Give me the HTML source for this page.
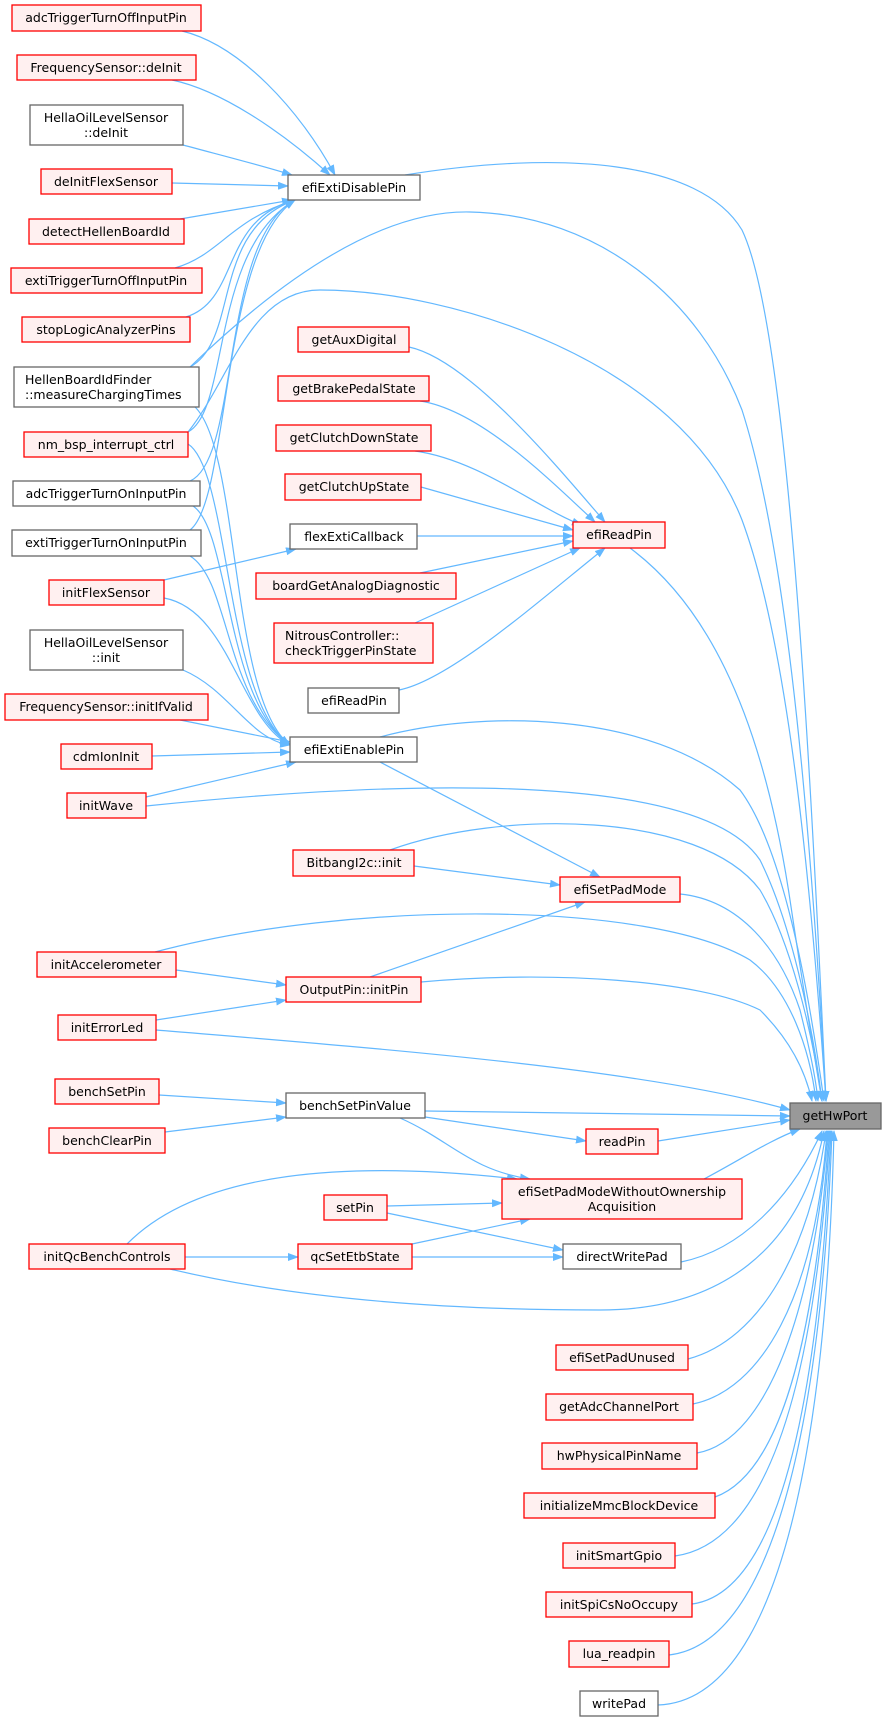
<!DOCTYPE html>
<html><head><meta charset="utf-8"><style>
html,body{margin:0;padding:0;background:#fff;}
svg{display:block;}
text{font-family:"DejaVu Sans","Liberation Sans",sans-serif;font-size:12.5px;fill:#000;}
.r{fill:#fff0f0;stroke:#ff0000;stroke-width:1.3;}
.g{fill:#fff;stroke:#666;stroke-width:1.3;}
.e{fill:none;stroke:#63b8ff;stroke-width:1.2;}
</style></head><body>
<svg width="883" height="1721" viewBox="0 0 883 1721" xmlns="http://www.w3.org/2000/svg">
<defs><marker id="a" markerWidth="11" markerHeight="8" refX="10" refY="4" orient="auto" markerUnits="userSpaceOnUse"><path d="M0,0 L11,4 L0,8 z" fill="#63b8ff"/></marker></defs>
<g class="e" marker-end="url(#a)">
<path d="M182,31 C240,45 300,110 335,175"/>
<path d="M172,80 C220,90 280,130 330,175"/>
<path d="M183,145 C220,155 260,165 292,175"/>
<path d="M172,183 L288,186"/>
<path d="M180,219 L292,200"/>
<path d="M175,268 C220,255 230,220 295,200"/>
<path d="M186,317 C240,300 220,220 295,200"/>
<path d="M190,367 C240,340 210,230 295,200"/>
<path d="M188,432 C230,410 210,250 295,200"/>
<path d="M190,481 C240,460 220,240 295,200"/>
<path d="M190,530 C230,500 220,250 295,200"/>
<path d="M195,407 C240,450 230,700 290,745"/>
<path d="M188,444 C230,470 225,700 290,745"/>
<path d="M193,506 C230,530 225,700 290,745"/>
<path d="M190,556 C230,580 225,700 290,745"/>
<path d="M164,598 C230,610 240,720 290,745"/>
<path d="M183,670 C230,690 250,740 290,745"/>
<path d="M180,720 L290,742"/>
<path d="M152,756 L290,752"/>
<path d="M146,797 L296,762"/>
<path d="M164,580 L296,549"/>
<path d="M409,347 C470,360 560,470 605,522"/>
<path d="M420,401 C480,410 550,480 595,522"/>
<path d="M415,451 C480,460 540,510 582,525"/>
<path d="M421,487 L573,530"/>
<path d="M417,536 L573,536"/>
<path d="M420,573 L573,541"/>
<path d="M415,623 L580,548"/>
<path d="M399,690 C450,680 540,600 605,548"/>
<path d="M405,175 C560,150 700,160 742,230 C790,330 812,800 826,1101"/>
<path d="M190,367 C280,280 380,210 470,212 C600,215 700,300 742,410 C790,560 812,850 826,1101"/>
<path d="M188,432 C230,380 250,290 320,290 C450,290 680,360 742,520 C790,650 812,900 826,1101"/>
<path d="M630,548 C700,600 760,700 790,900 C805,1000 815,1060 822,1101"/>
<path d="M380,737 C480,710 650,710 740,790 C785,850 810,1000 824,1101"/>
<path d="M146,806 C400,780 700,770 760,860 C790,920 812,1020 822,1101"/>
<path d="M390,850 C500,810 700,810 760,890 C790,940 812,1030 822,1101"/>
<path d="M680,894 C740,900 780,950 800,1010 C810,1050 816,1080 818,1101"/>
<path d="M155,952 C350,900 650,900 750,960 C790,990 810,1050 816,1101"/>
<path d="M421,982 C550,970 700,980 760,1010 C790,1040 805,1070 812,1101"/>
<path d="M156,1030 C400,1050 650,1070 790,1110"/>
<path d="M425,1111 L790,1116"/>
<path d="M658,1141 L790,1120"/>
<path d="M704,1179 C740,1160 770,1140 800,1129"/>
<path d="M681,1262 C740,1250 790,1200 822,1131"/>
<path d="M170,1269 C300,1300 450,1310 600,1310 C720,1310 800,1250 824,1131"/>
<path d="M688,1359 C760,1340 810,1250 826,1131"/>
<path d="M693,1404 C760,1390 815,1300 827,1131"/>
<path d="M697,1453 C770,1440 815,1300 828,1131"/>
<path d="M715,1497 C790,1470 818,1300 829,1131"/>
<path d="M675,1556 C790,1540 820,1300 830,1131"/>
<path d="M692,1604 C800,1590 823,1300 831,1131"/>
<path d="M669,1655 C800,1640 826,1300 832,1131"/>
<path d="M658,1705 C810,1700 830,1300 834,1131"/>
<path d="M380,762 L600,877"/>
<path d="M414,866 L560,885"/>
<path d="M370,977 L585,902"/>
<path d="M176,970 L286,985"/>
<path d="M156,1020 L286,1000"/>
<path d="M159,1095 L286,1103"/>
<path d="M165,1132 L286,1117"/>
<path d="M425,1117 L586,1141"/>
<path d="M400,1118 C450,1140 470,1170 530,1179"/>
<path d="M127,1244 C200,1170 350,1160 517,1179"/>
<path d="M387,1206 L502,1203"/>
<path d="M412,1244 L530,1219"/>
<path d="M387,1213 L563,1250"/>
<path d="M412,1257 L563,1257"/>
<path d="M185,1257 L298,1257"/>
</g>
<g text-anchor="middle">
<rect class="r" x="12" y="5" width="189" height="26"/><text x="106" y="22">adcTriggerTurnOffInputPin</text>
<rect class="r" x="17" y="55" width="179" height="25"/><text x="106" y="72">FrequencySensor::deInit</text>
<rect class="g" x="30" y="105" width="153" height="40"/><text x="106" y="122">HellaOilLevelSensor</text><text x="106" y="137">::deInit</text>
<rect class="r" x="41" y="169" width="131" height="25"/><text x="106" y="186">deInitFlexSensor</text>
<rect class="r" x="29" y="219" width="155" height="25"/><text x="106" y="236">detectHellenBoardId</text>
<rect class="r" x="11" y="268" width="191" height="25"/><text x="106" y="285">extiTriggerTurnOffInputPin</text>
<rect class="r" x="22" y="317" width="168" height="25"/><text x="106" y="334">stopLogicAnalyzerPins</text>
<rect class="g" x="14" y="367" width="185" height="40"/><text x="25" y="384" text-anchor="start">HellenBoardIdFinder</text><text x="25" y="399" text-anchor="start">::measureChargingTimes</text>
<rect class="r" x="24" y="432" width="164" height="25"/><text x="106" y="449">nm_bsp_interrupt_ctrl</text>
<rect class="g" x="13" y="481" width="187" height="25"/><text x="106" y="498">adcTriggerTurnOnInputPin</text>
<rect class="g" x="12" y="530" width="189" height="26"/><text x="106" y="547">extiTriggerTurnOnInputPin</text>
<rect class="r" x="49" y="580" width="115" height="25"/><text x="106" y="597">initFlexSensor</text>
<rect class="g" x="30" y="630" width="153" height="40"/><text x="106" y="647">HellaOilLevelSensor</text><text x="106" y="662">::init</text>
<rect class="r" x="5" y="694" width="203" height="26"/><text x="106" y="711">FrequencySensor::initIfValid</text>
<rect class="r" x="61" y="744" width="91" height="25"/><text x="106" y="761">cdmIonInit</text>
<rect class="r" x="67" y="793" width="79" height="25"/><text x="106" y="810">initWave</text>
<rect class="r" x="37" y="952" width="139" height="25"/><text x="106" y="969">initAccelerometer</text>
<rect class="r" x="58" y="1015" width="98" height="25"/><text x="107" y="1032">initErrorLed</text>
<rect class="r" x="55" y="1079" width="104" height="25"/><text x="107" y="1096">benchSetPin</text>
<rect class="r" x="49" y="1128" width="116" height="25"/><text x="107" y="1145">benchClearPin</text>
<rect class="r" x="29" y="1244" width="156" height="25"/><text x="107" y="1261">initQcBenchControls</text>

<rect class="g" x="288" y="175" width="132" height="25"/><text x="354" y="192">efiExtiDisablePin</text>
<rect class="r" x="298" y="327" width="111" height="25"/><text x="354" y="344">getAuxDigital</text>
<rect class="r" x="278" y="376" width="151" height="25"/><text x="354" y="393">getBrakePedalState</text>
<rect class="r" x="276" y="425" width="155" height="26"/><text x="354" y="442">getClutchDownState</text>
<rect class="r" x="285" y="474" width="136" height="26"/><text x="354" y="491">getClutchUpState</text>
<rect class="g" x="290" y="524" width="127" height="25"/><text x="354" y="541">flexExtiCallback</text>
<rect class="r" x="256" y="573" width="200" height="26"/><text x="356" y="590">boardGetAnalogDiagnostic</text>
<rect class="r" x="274" y="623" width="159" height="40"/><text x="285" y="640" text-anchor="start">NitrousController::</text><text x="285" y="655" text-anchor="start">checkTriggerPinState</text>
<rect class="g" x="308" y="688" width="91" height="25"/><text x="354" y="705">efiReadPin</text>
<rect class="g" x="290" y="737" width="127" height="25"/><text x="354" y="754">efiExtiEnablePin</text>
<rect class="r" x="293" y="850" width="121" height="26"/><text x="354" y="867">BitbangI2c::init</text>
<rect class="r" x="286" y="977" width="135" height="25"/><text x="354" y="994">OutputPin::initPin</text>
<rect class="g" x="286" y="1093" width="139" height="25"/><text x="355" y="1110">benchSetPinValue</text>
<rect class="r" x="324" y="1195" width="63" height="25"/><text x="355" y="1212">setPin</text>
<rect class="r" x="298" y="1244" width="114" height="25"/><text x="355" y="1261">qcSetEtbState</text>

<rect class="r" x="573" y="522" width="92" height="26"/><text x="619" y="539">efiReadPin</text>
<rect class="r" x="560" y="877" width="120" height="25"/><text x="620" y="894">efiSetPadMode</text>
<rect class="r" x="586" y="1129" width="72" height="25"/><text x="622" y="1146">readPin</text>
<rect class="r" x="502" y="1179" width="240" height="40"/><text x="622" y="1196">efiSetPadModeWithoutOwnership</text><text x="622" y="1211">Acquisition</text>
<rect class="g" x="563" y="1244" width="118" height="25"/><text x="622" y="1261">directWritePad</text>
<rect class="r" x="556" y="1345" width="132" height="25"/><text x="622" y="1362">efiSetPadUnused</text>
<rect class="r" x="546" y="1394" width="147" height="26"/><text x="619" y="1411">getAdcChannelPort</text>
<rect class="r" x="542" y="1443" width="155" height="26"/><text x="619" y="1460">hwPhysicalPinName</text>
<rect class="r" x="524" y="1493" width="191" height="25"/><text x="619" y="1510">initializeMmcBlockDevice</text>
<rect class="r" x="563" y="1543" width="112" height="25"/><text x="619" y="1560">initSmartGpio</text>
<rect class="r" x="546" y="1592" width="146" height="25"/><text x="619" y="1609">initSpiCsNoOccupy</text>
<rect class="r" x="569" y="1641" width="100" height="26"/><text x="619" y="1658">lua_readpin</text>
<rect class="g" x="580" y="1691" width="78" height="25"/><text x="619" y="1708">writePad</text>

<rect x="790" y="1103" width="91" height="26" fill="#999" stroke="#666" stroke-width="1.3"/><text x="835" y="1120">getHwPort</text>
</g>
</svg>
</body></html>
